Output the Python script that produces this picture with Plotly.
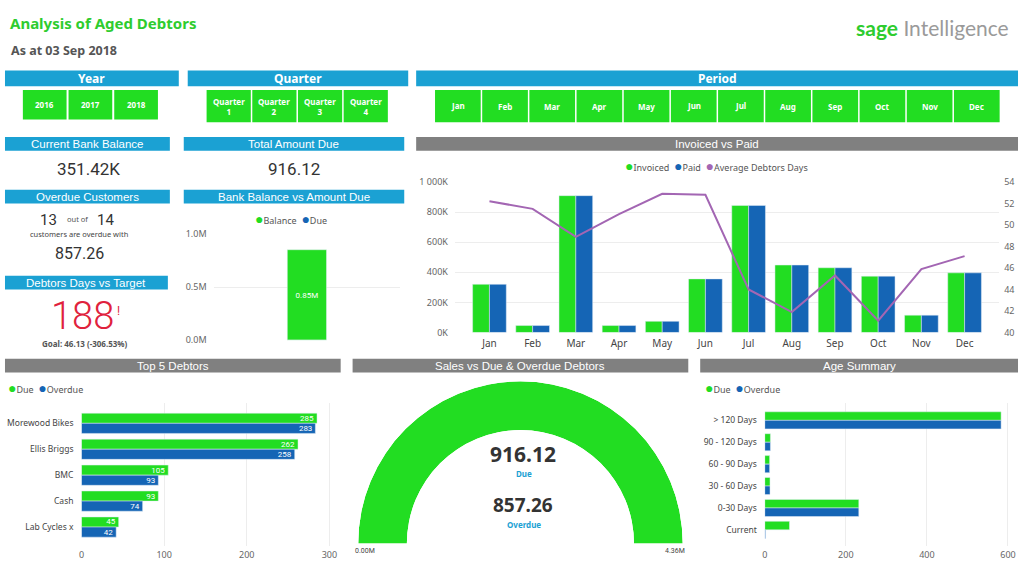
import plotly.graph_objects as go

# Figure covers the whole 1024x574 window; the body margin is removed by a post script.
OX, OY = 0, 0
FW, FH = 1024, 574


def px(x):
    return (x - OX) / FW


def py(y):
    return 1 - (y - OY) / FH


# ---------------- data ----------------
year_labels = ["2016", "2017", "2018"]
quarter_labels = ["Quarter<br>1", "Quarter<br>2", "Quarter<br>3", "Quarter<br>4"]
months = ["Jan", "Feb", "Mar", "Apr", "May", "Jun", "Jul", "Aug", "Sep", "Oct", "Nov", "Dec"]

invoiced = [320000, 46000, 909000, 46000, 74000, 356000, 844000, 448000, 430000, 374000, 115000, 396000]
paid = [320000, 46000, 909000, 46000, 74000, 356000, 844000, 448000, 430000, 374000, 115000, 396000]
avg_debtor_days = [52.2, 51.5, 48.9, 51.0, 52.9, 52.8, 44.0, 41.9, 45.3, 41.1, 45.9, 47.1]
amount_ticks = [0, 200000, 400000, 600000, 800000, 1000000]
amount_tick_text = ["0K", "200K", "400K", "600K", "800K", "1 000K"]
days_ticks = [40, 42, 44, 46, 48, 50, 52, 54]

bank_category = ["Bank"]
bank_balance = [850000]
bank_due = [916.12]
bank_ticks = [0, 500000, 1000000]
bank_tick_text = ["0.0M", "0.5M", "1.0M"]
bank_label = ["0.85M"]

top5_names = ["Morewood Bikes", "Ellis Briggs", "BMC", "Cash", "Lab Cycles x"]
top5_due = [285, 262, 105, 93, 45]
top5_overdue = [283, 258, 93, 74, 42]
top5_ticks = [0, 100, 200, 300]

age_bands = ["> 120 Days", "90 - 120 Days", "60 - 90 Days", "30 - 60 Days", "0-30 Days", "Current"]
age_due = [583, 14, 12, 13, 232, 61]
age_overdue = [583, 14, 12, 13, 232, 2]
age_ticks = [0, 200, 400, 600]

gauge_min, gauge_max = 0, 4360000
gauge_value = 4360000
gauge_min_text, gauge_max_text = "0.00M", "4.36M"
gauge_due_text = "916.12"
gauge_overdue_text = "857.26"

kpi_bank_balance = "351.42K"
kpi_total_due = "916.12"
overdue_customers = "13"
total_customers = "14"
overdue_amount = "857.26"
debtor_days = "188"
debtor_goal_text = "Goal: 46.13 (-306.53%)"

# ---------------- styles ----------------
GREEN = "#22dd22"
BLUE = "#1565b5"
PURPLE = "#a366b3"
HDR_BLUE = "#1ba1d3"
HDR_GRAY = "#808080"
TITLE_GREEN = "#2ecc2e"
GRID = "#ededed"
TICK = dict(family="Noto Sans", size=9, color="#666666")
MONTH = dict(family="Noto Sans", size=10, color="#444444")
CAT = dict(family="Noto Sans", size=8.5, color="#444444")

fig = go.Figure()

# ---- Bank Balance vs Amount Due ----
fig.add_trace(go.Bar(x=bank_category, y=bank_balance, name="Balance", marker_color=GREEN,
                     width=0.21, offsetgroup="bank", text=bank_label, textposition="inside",
                     insidetextanchor="middle", textfont=dict(family="Roboto", size=8, color="white"),
                     xaxis="x", yaxis="y"))
fig.add_trace(go.Bar(x=bank_category, y=bank_due, name="Due", marker_color=BLUE,
                     width=0.21, offsetgroup="bank", xaxis="x", yaxis="y"))

# ---- Invoiced vs Paid ----
fig.add_trace(go.Bar(x=months, y=invoiced, name="Invoiced", marker_color=GREEN,
                     xaxis="x2", yaxis="y2"))
fig.add_trace(go.Bar(x=months, y=paid, name="Paid", marker_color=BLUE,
                     xaxis="x2", yaxis="y2"))
fig.add_trace(go.Scatter(x=months, y=avg_debtor_days, name="Average Debtors Days", mode="lines",
                         line=dict(color=PURPLE, width=2), xaxis="x2", yaxis="y3"))

# ---- Top 5 Debtors ----
lbl = dict(family="Roboto", size=8, color="white")
fig.add_trace(go.Bar(y=top5_names, x=top5_due, orientation="h", name="Due", marker_color=GREEN,
                     text=top5_due, textposition="inside", insidetextanchor="end",
                     constraintext="none", textfont=lbl, xaxis="x4", yaxis="y4"))
fig.add_trace(go.Bar(y=top5_names, x=top5_overdue, orientation="h", name="Overdue", marker_color=BLUE,
                     text=top5_overdue, textposition="inside", insidetextanchor="end",
                     constraintext="none", textfont=lbl, xaxis="x4", yaxis="y4"))

# ---- Age Summary ----
fig.add_trace(go.Bar(y=age_bands, x=age_due, orientation="h", name="Due", marker_color=GREEN,
                     xaxis="x5", yaxis="y5"))
fig.add_trace(go.Bar(y=age_bands, x=age_overdue, orientation="h", name="Overdue", marker_color=BLUE,
                     xaxis="x5", yaxis="y5"))

# ---- Gauge ----
gauge_span = 180 * (gauge_value - gauge_min) / (gauge_max - gauge_min)
fig.add_trace(go.Barpolar(r=[1], theta=[gauge_span / 2], width=[gauge_span], marker_color=GREEN,
                          marker_line_width=0, hoverinfo="skip", subplot="polar"))

fig.update_traces(showlegend=False)

# ---------------- shapes (headers, slicer buttons) ----------------
shapes = []
annotations = []


def header(x0, x1, y0, y1, text, color, bold=False, size=11.5):
    shapes.append(dict(type="rect", xref="paper", yref="paper", x0=px(x0), x1=px(x1),
                       y0=py(y1), y1=py(y0), fillcolor=color, line=dict(width=0), layer="below"))
    annotations.append(dict(xref="paper", yref="paper", x=px((x0 + x1) / 2), y=py((y0 + y1) / 2 + 0.5),
                            text=f"<b>{text}</b>" if bold else text, showarrow=False,
                            xanchor="center", yanchor="middle",
                            font=dict(family="Liberation Sans" if not bold else "Noto Sans",
                                      size=size, color="white")))


header(2, 177, 65, 81, "Year", HDR_BLUE, bold=True, size=12)
header(186, 408, 65, 81, "Quarter", HDR_BLUE, bold=True, size=12)
header(416, 1022, 65, 81, "Period", HDR_BLUE, bold=True, size=12)
header(2, 168, 133, 147, "Current Bank Balance", HDR_BLUE)
header(182, 404, 133, 147, "Total Amount Due", HDR_BLUE)
header(2, 168, 187, 201, "Overdue Customers", HDR_BLUE)
header(182, 404, 187, 201, "Bank Balance vs Amount Due", HDR_BLUE)
header(2, 166, 275, 289, "Debtors Days vs Target", HDR_BLUE)
header(416, 1022, 133, 147, "Invoiced vs Paid", HDR_GRAY)
header(2, 340, 360, 374, "Top 5 Debtors", HDR_GRAY)
header(352, 690, 360, 374, "Sales vs Due &amp; Overdue Debtors", HDR_GRAY)
header(702, 1022, 360, 374, "Age Summary", HDR_GRAY)


def buttons(labels, start, width, gap, y0, y1):
    for i, lab in enumerate(labels):
        x0 = start + i * (width + gap)
        shapes.append(dict(type="rect", xref="paper", yref="paper", x0=px(x0), x1=px(x0 + width),
                           y0=py(y1), y1=py(y0), fillcolor=GREEN, line=dict(width=0), layer="below"))
        annotations.append(dict(xref="paper", yref="paper", x=px(x0 + width / 2), y=py((y0 + y1) / 2),
                                text=f"<b>{lab}</b>", showarrow=False, xanchor="center", yanchor="middle",
                                font=dict(family="Noto Sans", size=8, color="white")))


buttons(year_labels, 20, 44, 2, 85, 115)
buttons(quarter_labels, 205, 44.5, 1.5, 85, 118)
buttons(months, 435, 46, 1.5, 85, 118)


def text(x, y, t, size, color="#333333", family="Noto Sans", anchor="center", weight=None):
    f = dict(family=family, size=size, color=color)
    if weight is not None:
        f["weight"] = weight
    annotations.append(dict(xref="paper", yref="paper", x=px(x), y=py(y), text=t,
                            showarrow=False, xanchor=anchor, yanchor="middle", font=f))


def legend_text(x, y, items, anchor):
    parts = [f"<span style='color:{c};font-size:14px'>●</span>{n}" for n, c in items]
    text(x, y, "  ".join(parts), 9, "#555555", anchor=anchor)


# title & logo
text(5, 16, "<b>Analysis of Aged Debtors</b>", 15, TITLE_GREEN, anchor="left")
text(6, 45, "<b>As at 03 Sep 2018</b>", 12.5, "#555555", anchor="left")
text(1015, 21, "<span style='color:#2ecc2e'><b>sage</b></span>"
     "<span style='color:#9a9a9a'> Intelligence</span>", 21, "#9a9a9a", family="Lato", anchor="right")

# KPI cards
text(86, 166, kpi_bank_balance, 17, "#333333", family="Roboto")
text(293, 166, kpi_total_due, 17, "#333333", family="Roboto")
text(46, 218, overdue_customers, 15, "#333333", family="Roboto")
text(75, 217, "out of", 7.5, "#555555")
text(103, 218, total_customers, 15, "#333333", family="Roboto")
text(77, 232, "customers are overdue with", 7.5, "#444444")
text(77, 252, overdue_amount, 16, "#333333", family="Roboto")
text(80, 316, debtor_days, 38, "#e0223c", family="Roboto", weight=300)
text(116, 311, "!", 12, "#e0223c", family="Roboto")
text(83, 344, f"<b>{debtor_goal_text}</b>", 8, "#555555")

# legends
legend_text(290, 216, [("Balance", GREEN), ("Due", BLUE)], "center")
legend_text(718, 162, [("Invoiced", GREEN), ("Paid", BLUE), ("Average Debtors Days", PURPLE)], "center")
legend_text(3, 389, [("Due", GREEN), ("Overdue", BLUE)], "left")
legend_text(705, 389, [("Due", GREEN), ("Overdue", BLUE)], "left")

# gauge texts
text(524, 457, f"<b>{gauge_due_text}</b>", 21, "#333333")
text(525, 477, "<b>Due</b>", 8, HDR_BLUE)
text(524, 510, f"<b>{gauge_overdue_text}</b>", 19, "#333333")
text(525, 529, "<b>Overdue</b>", 8, HDR_BLUE)
text(364, 557, gauge_min_text, 7, "#444444", family="Roboto")
text(677, 557, gauge_max_text, 7, "#444444", family="Roboto")

# ---------------- layout ----------------
fig.update_layout(
    width=FW, height=FH, margin=dict(l=0, r=0, t=0, b=0),
    paper_bgcolor="white", plot_bgcolor="rgba(0,0,0,0)",
    barmode="group", bargap=0.22, bargroupgap=0, showlegend=False,
    shapes=shapes, annotations=annotations, hovermode=False,
    # bank balance
    xaxis=dict(domain=[px(212), px(400)], range=[-0.5, 0.5], showticklabels=False,
               showgrid=False, zeroline=False, anchor="y"),
    yaxis=dict(domain=[py(341), py(232)], range=[0, 1000000], tickvals=bank_ticks,
               ticktext=bank_tick_text, gridcolor=GRID, zeroline=False, tickfont=TICK,
               anchor="x", ticklabelstandoff=6),
    # invoiced vs paid
    xaxis2=dict(domain=[px(455), px(1003)], range=[-0.8, 11.8], tickfont=MONTH, showgrid=False,
                zeroline=False, anchor="y2", ticklabelstandoff=4),
    yaxis2=dict(domain=[py(333), py(179)], range=[0, 1000000], tickvals=amount_ticks,
                ticktext=amount_tick_text, gridcolor=GRID, zeroline=False, tickfont=TICK,
                anchor="x2", ticklabelstandoff=6),
    yaxis3=dict(domain=[py(333), py(179)], range=[40, 54], tickvals=days_ticks, overlaying="y2",
                side="right", showgrid=False, zeroline=False, tickfont=TICK, anchor="x2",
                ticklabelstandoff=4),
    # top 5
    xaxis4=dict(domain=[px(79), px(337)], range=[0, 310], tickvals=top5_ticks, gridcolor=GRID,
                zeroline=False, tickfont=TICK, anchor="y4", ticklabelstandoff=2),
    yaxis4=dict(domain=[py(552), py(405)], range=[4.75, -0.79], tickfont=CAT, showgrid=False,
                zeroline=False, anchor="x4", ticklabelstandoff=7),
    # age summary
    xaxis5=dict(domain=[px(767), px(1016)], range=[0, 610], tickvals=age_ticks, gridcolor=GRID,
                zeroline=False, tickfont=TICK, anchor="y5", ticklabelstandoff=2),
    yaxis5=dict(domain=[py(552), py(405)], range=[5.76, -0.80], tickfont=CAT, showgrid=False,
                zeroline=False, anchor="x5", ticklabelstandoff=7),
    polar=dict(domain=dict(x=[px(355), px(687)], y=[py(549), py(383)]), sector=[0, 180], hole=0.70,
               bgcolor="rgba(0,0,0,0)",
               radialaxis=dict(visible=False, range=[0, 1]),
               angularaxis=dict(visible=False, rotation=180, direction="clockwise",
                                thetaunit="degrees")),
)

fig.write_html("out.html", config={"displayModeBar": False},
               post_script="document.body.style.margin='0';document.body.style.overflow='hidden';")
